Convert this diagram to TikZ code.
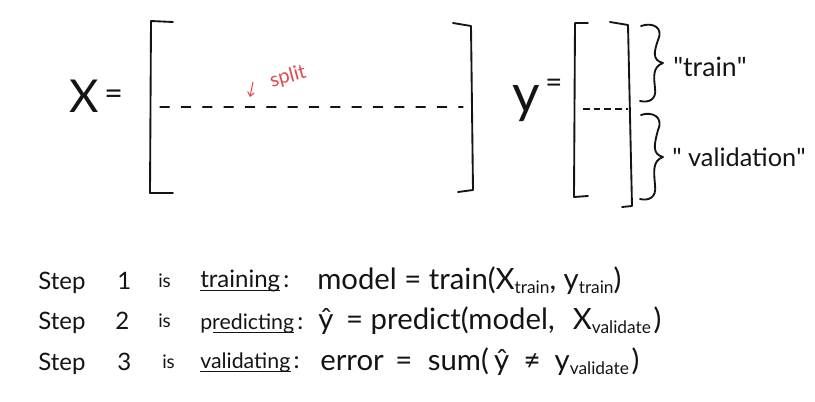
\documentclass[tikz,border=0pt]{standalone}
\usepackage{fontspec}
\setmainfont{Lato}
\usetikzlibrary{arrows.meta}
\definecolor{ink}{HTML}{141414}
\definecolor{redink}{HTML}{E5484D}
\newcommand{\lowsub}[1]{\raisebox{-0.3ex}{\fontsize{13}{14}\selectfont #1}}
\newcommand{\sq}{\XeTeXglyph\XeTeXcharglyph"22\relax}
\begin{document}
\begin{tikzpicture}[x=0.75pt,y=-0.75pt,
  pen/.style={draw=ink, line width=1.4pt, line cap=round, line join=round},
  dashpen/.style={draw=ink, line width=0.9pt, line cap=round, dash pattern=on 7pt off 9pt},
  txt/.style={inner sep=0pt, anchor=base west, text=ink},
  word/.style={txt, font=\fontsize{18}{20}\selectfont},
  narrowword/.style={txt, font=\fontsize{16}{18}\selectfont},
  formula/.style={txt, font=\fontsize{22}{24}\selectfont}]
\useasboundingbox (0,0) rectangle (815,401);

% X =
\node[txt, font=\fontsize{34}{36}\selectfont] (X) at (69,112) {X};
\node[txt, font=\fontsize{24}{26}\selectfont] (Xeq) at (104,104) {=};

% bracket of X
\draw[pen] (173,22) -- (151,21) -- (150,193) -- (173,193);
\draw[pen] (453,23) -- (471,26) -- (473,190) -- (458,192);
\coordinate (xsL) at (160,107);
\coordinate (xsR) at (463,107);
\draw[dashpen] (xsL) -- (xsR);

% split
\node[inner sep=0pt, text=redink, font=\fontsize{15}{16}\selectfont, rotate=15] (split) at (288,77) {split};
\coordinate (arrTop) at (253,82);
\coordinate (arrBot) at (250,97);
\draw[draw=redink, line width=0.8pt, -{Straight Barb[length=3pt,width=5pt]}] (arrTop) -- (arrBot);

% y =
\node[txt, font=\fontsize{40}{42}\selectfont] (Y) at (512,112) {y};
\node[txt, font=\fontsize{22}{24}\selectfont] (Yeq) at (545,92) {=};

% bracket of y
\draw[pen] (588,23) -- (575,23) -- (574,197) -- (588,196);
\draw[pen] (610,22) -- (628,25) -- (632,206) -- (622,207);
\coordinate (ysL) at (583,109);
\coordinate (ysR) at (628,109);
\draw[draw=ink, line width=0.8pt, dash pattern=on 5pt off 3pt] (ysL) -- (ysR);

% braces
\draw[pen] (641,26) .. controls (652,22) and (664,27) .. (658,40)
  .. controls (654,52) and (652,60) .. (663,63)
  .. controls (652,67) and (654,78) .. (655,88)
  .. controls (657,100) and (648,103) .. (640,101);
\draw[pen] (641,115) .. controls (652,111) and (664,117) .. (658,130)
  .. controls (654,145) and (652,154) .. (663,157)
  .. controls (652,161) and (654,172) .. (655,185)
  .. controls (657,198) and (648,201) .. (640,199);
\node[txt, font=\fontsize{20}{22}\selectfont] (train) at (673,76) {\sq train\sq};
\node[txt, font=\fontsize{19}{21}\selectfont] (valid) at (672,166) {\sq\ validation\sq};

% Step 1
\node[word] (s1) at (38,289) {Step};
\node[word] (n1) at (117,289) {1};
\node[txt, font=\fontsize{14}{16}\selectfont] (i1) at (158,287) {is};
\node[word] (w1) at (200,287) {training};
\node[word] (c1) at ([xshift=2pt]w1.base east) {:};
\node[formula] (f1) at (317,289) {model = train(X\lowsub{train}, y\lowsub{train})};
\draw[draw=ink, line width=0.9pt] ([yshift=-2.5pt]w1.base west) -- ([yshift=-2.5pt]w1.base east);

% Step 2
\node[word] (s2) at (38,329) {Step};
\node[word] (n2) at (115,329) {2};
\node[txt, font=\fontsize{14}{16}\selectfont] (i2) at (158,327) {is};
\node[narrowword] (w2) at (200,329) {predicting};
\node[word] (c2) at ([xshift=2pt]w2.base east) {:};
\node[formula] (f2) at (318,329) {ŷ\hspace{4pt} = predict(model,\hspace{8pt} X\lowsub{validate}\hspace{2pt})};
\draw[draw=ink, line width=0.9pt] ([xshift=10pt,yshift=-2.5pt]w2.base west) -- ([yshift=-2.5pt]w2.base east);

% Step 3
\node[word] (s3) at (38,370) {Step};
\node[word] (n3) at (117,370) {3};
\node[txt, font=\fontsize{14}{16}\selectfont] (i3) at (162,368) {is};
\node[narrowword] (w3) at (200,368) {validating};
\node[word] (c3) at ([xshift=2pt]w3.base east) {:};
\node[formula] (f3) at (320,370) {error\hspace{3pt} =\hspace{6pt} sum(\hspace{4pt}ŷ\hspace{5pt} ≠\hspace{5pt} y\lowsub{validate}\hspace{2pt})};
\draw[draw=ink, line width=0.9pt] ([yshift=-2.5pt]w3.base west) -- ([yshift=-2.5pt]w3.base east);
\end{tikzpicture}
\end{document}
